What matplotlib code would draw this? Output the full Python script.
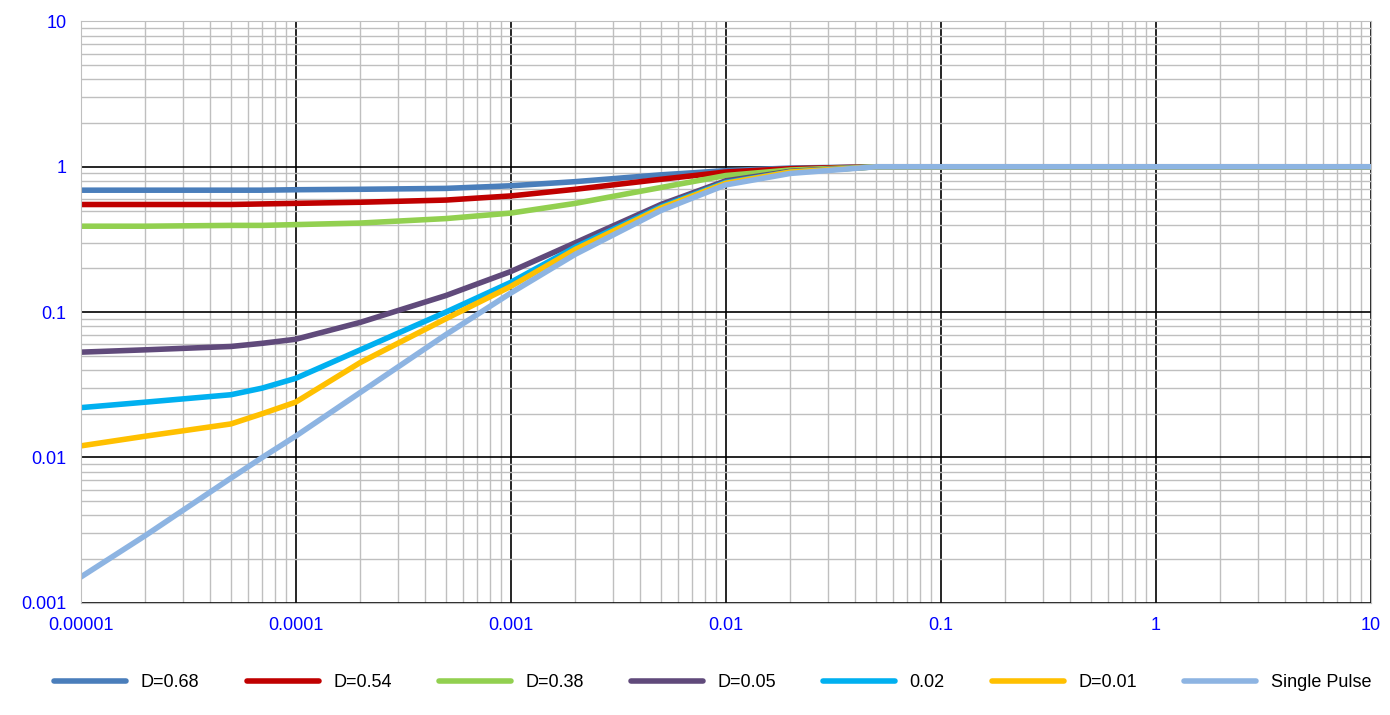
import numpy as np
import matplotlib.pyplot as plt
from matplotlib.ticker import LogLocator, FixedLocator

plt.rcParams['font.family'] = ['Liberation Sans', 'DejaVu Sans']

t = [1e-5, 2e-5, 5e-5, 7e-5, 1e-4, 2e-4, 5e-4, 1e-3, 2e-3, 5e-3, 1e-2, 2e-2, 5e-2, 0.1, 1, 10]

d068 = [0.69, 0.69, 0.69, 0.69, 0.695, 0.70, 0.71, 0.74, 0.79, 0.88, 0.94, 0.98, 1.0, 1.0, 1.0, 1.0]
d054 = [0.55, 0.55, 0.55, 0.555, 0.56, 0.57, 0.59, 0.63, 0.70, 0.82, 0.92, 0.97, 1.0, 1.0, 1.0, 1.0]
d038 = [0.39, 0.39, 0.395, 0.395, 0.40, 0.41, 0.44, 0.48, 0.56, 0.72, 0.87, 0.95, 1.0, 1.0, 1.0, 1.0]
d005 = [0.053, 0.055, 0.058, 0.061, 0.065, 0.085, 0.13, 0.19, 0.30, 0.55, 0.80, 0.93, 1.0, 1.0, 1.0, 1.0]
d002 = [0.022, 0.024, 0.027, 0.030, 0.035, 0.055, 0.10, 0.16, 0.28, 0.53, 0.78, 0.92, 1.0, 1.0, 1.0, 1.0]
d001 = [0.012, 0.014, 0.017, 0.020, 0.024, 0.045, 0.09, 0.15, 0.27, 0.52, 0.77, 0.92, 1.0, 1.0, 1.0, 1.0]
single = [0.0015, 0.0029, 0.0072, 0.0100, 0.014, 0.028, 0.07, 0.135, 0.25, 0.50, 0.75, 0.90, 1.0, 1.0, 1.0, 1.0]

series = [
    ("D=0.68", d068, "#4A7EBB"),
    ("D=0.54", d054, "#C00000"),
    ("D=0.38", d038, "#92D050"),
    ("D=0.05", d005, "#604A7B"),
    ("0.02", d002, "#00B0F0"),
    ("D=0.01", d001, "#FFC000"),
    ("Single Pulse", single, "#8DB4E2"),
]

fig = plt.figure(figsize=(13.9, 7.15), dpi=100)
ax = fig.add_axes([0.058, 0.157, 0.928, 0.813])

for name, vals, col in series:
    ax.plot(t, vals, color=col, lw=4, label=name, solid_capstyle='round')

ax.set_xscale('log')
ax.set_yscale('log')
ax.set_xlim(1e-5, 10)
ax.set_ylim(1e-3, 10)

xt = [1e-5, 1e-4, 1e-3, 1e-2, 0.1, 1, 10]
xl = ["0.00001", "0.0001", "0.001", "0.01", "0.1", "1", "10"]
yt = [1e-3, 1e-2, 0.1, 1, 10]
yl = ["0.001", "0.01", "0.1", "1", "10"]
ax.xaxis.set_major_locator(FixedLocator(xt))
ax.set_xticklabels(xl)
ax.yaxis.set_major_locator(FixedLocator(yt))
ax.set_yticklabels(yl)
ax.xaxis.set_minor_locator(LogLocator(base=10, subs=np.arange(2, 10)))
ax.yaxis.set_minor_locator(LogLocator(base=10, subs=np.arange(2, 10)))
ax.tick_params(which='both', length=0, labelcolor='#0000FF', labelsize=13, pad=10)

ax.grid(which='minor', color='#BFBFBF', lw=1)
ax.grid(which='major', color='black', lw=1.2)
ax.set_axisbelow(True)
for s in ax.spines.values():
    s.set_color('#BFBFBF')

ax.legend(loc='upper center', bbox_to_anchor=(0.49, -0.095), ncol=7, frameon=False,
          fontsize=13, handlelength=4.0, columnspacing=2.6)

fig.savefig("out.png", dpi=100)
